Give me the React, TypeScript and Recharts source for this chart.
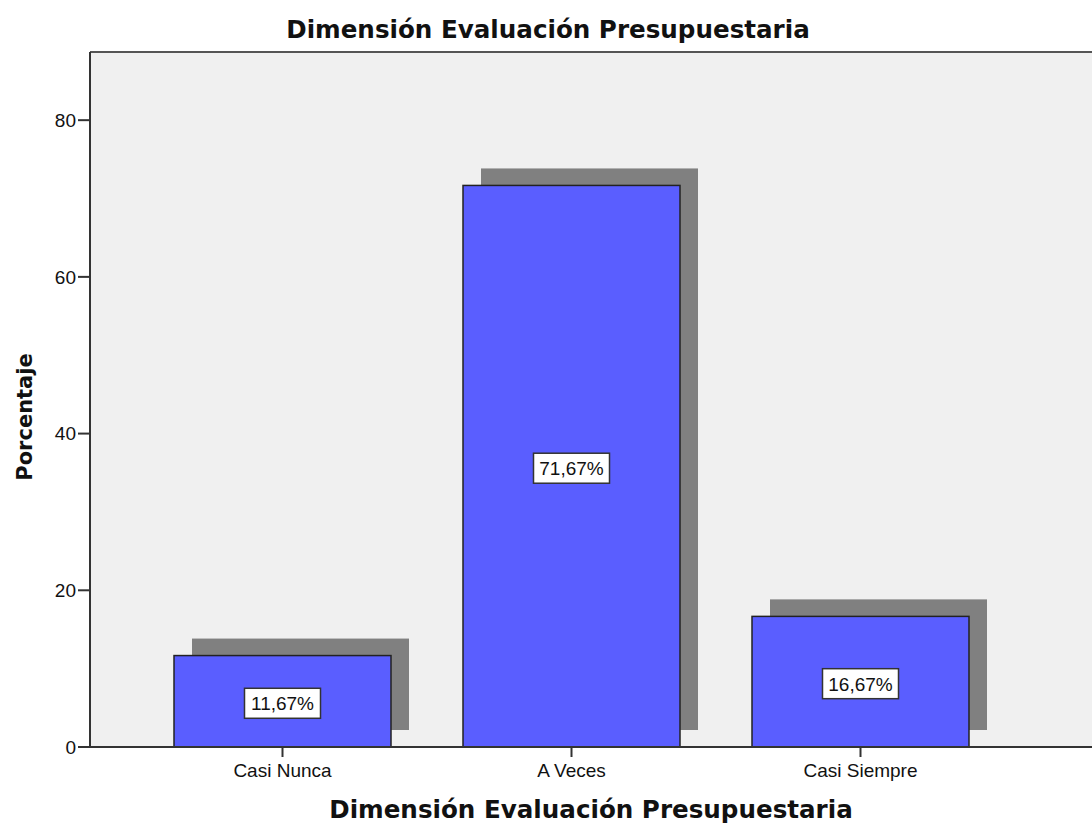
import { BarChart, Bar, XAxis, YAxis, CartesianGrid, ReferenceLine, LabelList } from 'recharts';

const categories = ['Casi Nunca', 'A Veces', 'Casi Siempre'];
const percentages = [11.67, 71.67, 16.67];
const yTicks = [0, 20, 40, 60, 80];
const Y_MAX = 88.7;

const data = categories.map((name, i) => ({ name, value: percentages[i] }));

const BAR_FILL = '#5a5eff';
const SHADOW_FILL = '#808080';
const PLOT_BG = '#f0f0f0';
const AXIS = '#333333';

// bar with a flat drop shadow behind it (shifted right and up)
function ShadowBar(props: any) {
  const { x, y, width, height } = props;
  return (
    <g>
      <rect x={x + 18} y={y - 17} width={width} height={height} fill={SHADOW_FILL} />
      <rect x={x} y={y} width={width} height={height} fill={BAR_FILL} stroke="#222" strokeWidth={1.5} />
    </g>
  );
}

function BoxLabel(props: any) {
  const { x, y, width, height, value } = props;
  const cx = x + width / 2;
  const cy = y + height / 2 + 2;
  const text = `${Number(value).toFixed(2).replace('.', ',')}%`;
  return (
    <g>
      <rect x={cx - 38} y={cy - 15} width={76} height={30} fill="#ffffff" stroke="#333" strokeWidth={1.5} />
      <text
        x={cx}
        y={cy}
        dy="0.36em"
        textAnchor="middle"
        fontFamily="'Liberation Sans', Arial, sans-serif"
        fontSize={19}
        fill="#111"
      >
        {text}
      </text>
    </g>
  );
}

const tickFont = { fontFamily: "'Liberation Sans', Arial, sans-serif", fontSize: 19, fill: '#111' };
const titleFont = "'DejaVu Sans', sans-serif";

export default function App() {
  return (
    <div style={{ position: 'absolute', left: 0, top: 0, width: 1092, height: 825, background: '#fff' }}>
      <BarChart
        width={1092}
        height={825}
        data={data}
        margin={{ top: 52, right: 0, bottom: 0, left: 0 }}
      >
        <CartesianGrid fill={PLOT_BG} horizontal={false} vertical={false} />
        <ReferenceLine y={Y_MAX} stroke="#555" strokeWidth={2} />
        <XAxis
          dataKey="name"
          height={78}
          padding={{ left: 48, right: 87 }}
          tick={tickFont}
          tickSize={10}
          tickMargin={7}
          axisLine={{ stroke: AXIS, strokeWidth: 2 }}
          tickLine={{ stroke: AXIS, strokeWidth: 2 }}
        />
        <YAxis
          width={90}
          domain={[0, Y_MAX]}
          ticks={yTicks}
          tick={tickFont}
          tickSize={12}
          tickMargin={2}
          axisLine={{ stroke: AXIS, strokeWidth: 2 }}
          tickLine={{ stroke: AXIS, strokeWidth: 2 }}
          allowDataOverflow
        />
        <Bar dataKey="value" barSize={217} shape={ShadowBar} isAnimationActive={false}>
          <LabelList dataKey="value" content={BoxLabel} />
        </Bar>
      </BarChart>
      <svg
        width={1092}
        height={825}
        style={{ position: 'absolute', left: 0, top: 0, pointerEvents: 'none' }}
      >
        <text x={548} y={38} textAnchor="middle" fontFamily={titleFont} fontWeight="bold" fontSize={24.6} fill="#111">
          Dimensión Evaluación Presupuestaria
        </text>
        <text x={591} y={818} textAnchor="middle" fontFamily={titleFont} fontWeight="bold" fontSize={24.6} fill="#111">
          Dimensión Evaluación Presupuestaria
        </text>
        <text
          x={32}
          y={417}
          textAnchor="middle"
          transform="rotate(-90, 32, 417)"
          fontFamily={titleFont}
          fontWeight="bold"
          fontSize={21}
          fill="#111"
        >
          Porcentaje
        </text>
      </svg>
    </div>
  );
}
